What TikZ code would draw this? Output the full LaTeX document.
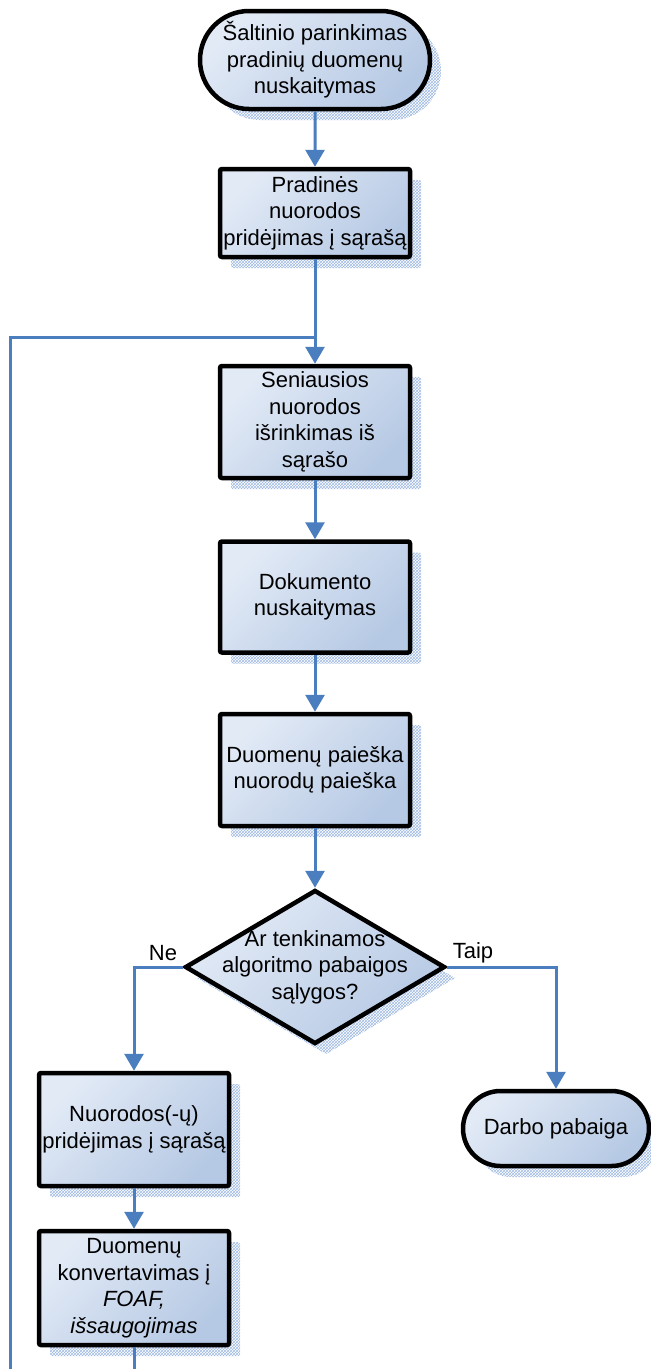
\documentclass[tikz,border=0pt]{standalone}
\usepackage{fontspec}
\setmainfont{Liberation Sans}
\usetikzlibrary{arrows.meta,shapes.misc,shapes.geometric,patterns}

\definecolor{fillA}{RGB}{226,234,246}
\definecolor{fillB}{RGB}{182,201,228}
\definecolor{flow}{RGB}{74,126,191}
\definecolor{hatch}{RGB}{160,186,226}

\tikzset{
  shadowed/.style={preaction={draw=none,pattern=crosshatch,pattern color=hatch,
      transform canvas={shift={(11pt,-11pt)}}}},
  boxbase/.style={shadowed,draw=black,line width=4.5pt,
      top color=fillA,bottom color=fillB,shading angle=45,
      inner sep=0pt,align=center,font=\fontsize{22}{26.5}\selectfont},
  stepbox/.style={boxbase,rectangle,rounded corners=2pt,minimum width=190pt},
  terminal/.style={boxbase,rounded rectangle},
  decision/.style={boxbase,diamond,minimum width=260pt,minimum height=154pt},
  lbl/.style={font=\fontsize{22}{26.5}\selectfont,align=center,inner sep=0pt},
  conn/.style={draw=flow,line width=3pt},
  arr/.style={conn,-{Triangle[width=19pt,length=17pt]}}
}

\begin{document}
\begin{tikzpicture}[x=1pt,y=-1pt]
\useasboundingbox (0,0) rectangle (651,1369);

% main column
\node[terminal,minimum width=230pt,minimum height=98pt] (start) at (315,60)
  {Šaltinio parinkimas\\pradinių duomenų\\nuskaitymas};
\node[stepbox,minimum height=88pt] (add0) at (315,213)
  {Pradinės\\nuorodos\\pridėjimas į sąrašą};
\node[stepbox,minimum height=112pt] (pick) at (315,422)
  {Seniausios\\nuorodos\\išrinkimas iš\\sąrašo};
\node[stepbox,minimum height=111pt] (read) at (315,597)
  {Dokumento\\nuskaitymas};
\node[stepbox,minimum height=112pt] (search) at (315,770)
  {Duomenų paieška\\nuorodų paieška};
\node[decision] (cond) at (315,967) {};
\node[lbl] (condtxt) at (315,967) {Ar tenkinamos\\algoritmo pabaigos\\sąlygos?};

% branches
\node[stepbox,minimum height=113pt] (addn) at (134,1129.5)
  {Nuorodos(-ų)\\pridėjimas į sąrašą};
\node[stepbox,minimum height=114pt] (save) at (134,1288)
  {Duomenų\\konvertavimas į\\\textit{FOAF,}\\\textit{išsaugojimas}};
\node[terminal,minimum width=186pt,minimum height=75pt] (stop) at (556,1128.5)
  {Darbo pabaiga};

\node[lbl] (ne) at (163,953) {Ne};
\node[lbl] (taip) at (473,953) {Taip};

% loop-back route
\coordinate (join) at (315,337);
\coordinate (loopbot) at (10,1400);

% connectors
\draw[arr] (start) -- (add0);
\draw[arr] (add0) -- (pick);
\draw[arr] (pick) -- (read);
\draw[arr] (read) -- (search);
\draw[arr] (search) -- (cond);
\draw[arr] (cond.west) -| (addn.north);
\draw[arr] (cond.east) -| (stop.north);
\draw[arr] (addn) -- (save);
\draw[conn] (save.south) |- (loopbot) |- (join);
\end{tikzpicture}
\end{document}
